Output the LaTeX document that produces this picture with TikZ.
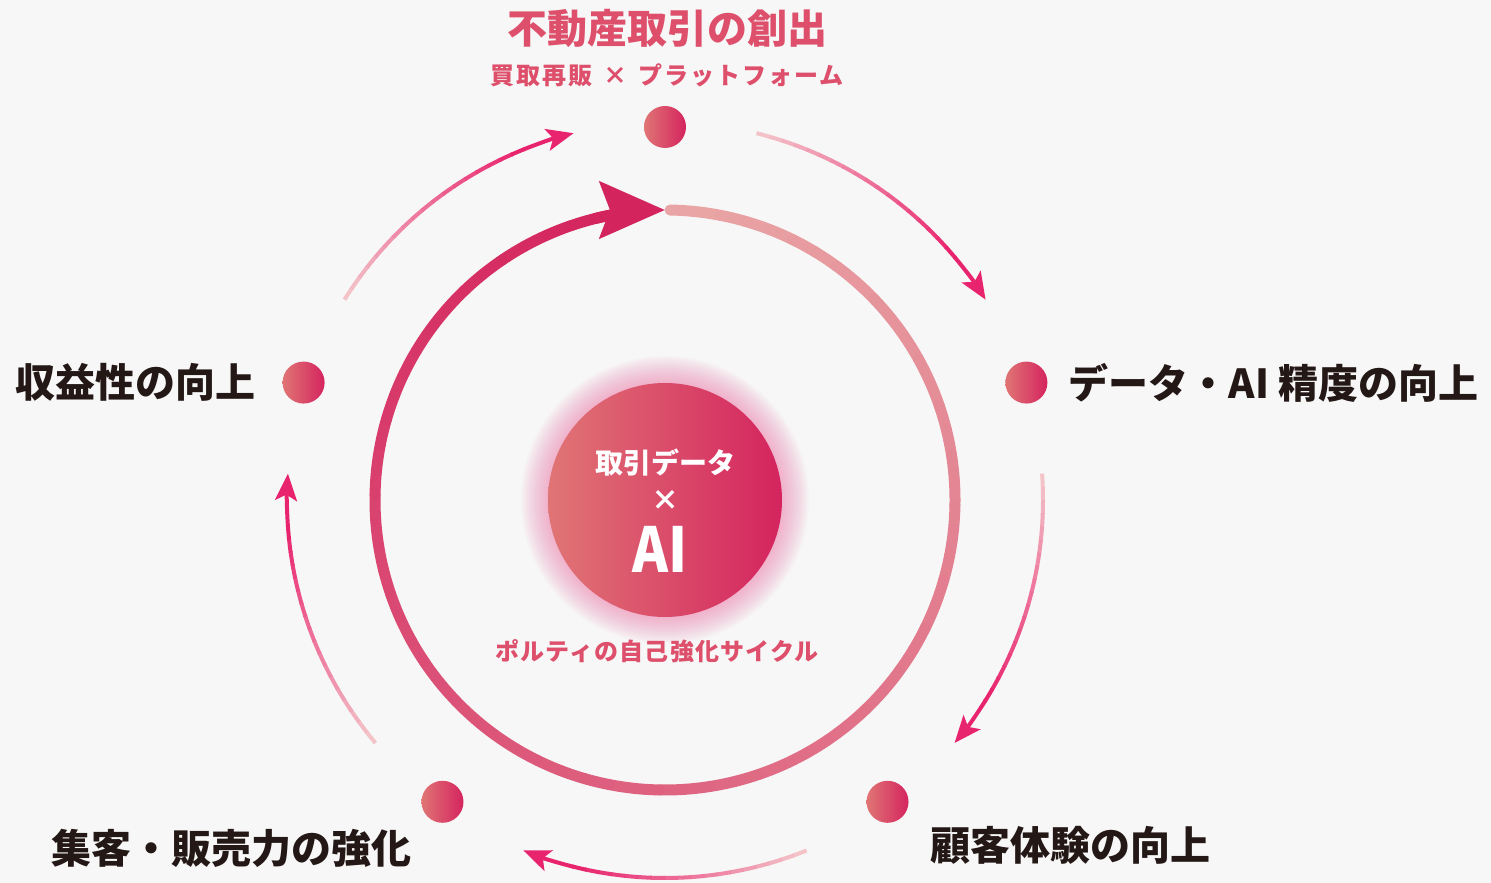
\documentclass[tikz,border=0pt]{standalone}
\usepackage{fontspec}
\setmainfont{Noto Sans CJK JP}
\newfontfamily\jpwide{Noto Sans CJK JP}[LetterSpace=5]
\newfontfamily\jpwider{Noto Sans CJK JP}[LetterSpace=8]
\usetikzlibrary{arrows.meta,positioning}
\definecolor{bgc}{HTML}{F7F7F7}
\definecolor{ink}{HTML}{231815}
\definecolor{rose}{HTML}{DD4F6B}
\definecolor{salmon}{HTML}{E07575}
\definecolor{crimson}{HTML}{D4245E}
\definecolor{ringstart}{HTML}{E9A5A5}
\definecolor{arctail}{HTML}{F3C3C8}
\definecolor{archead}{HTML}{E8246E}
\definecolor{glow}{HTML}{F0609E}
\tikzset{
    spot/.style={
        circle, inner sep=0pt,
        minimum size=42pt,
        left color=salmon, right color=crimson,
    },
    core/.style={
        circle, inner sep=0pt,
        minimum size=234pt,
        left color=salmon, right color=crimson,
    },
    phase/.style={
        font=\fontsize{40}{40}\selectfont\bfseries,
        text=ink, inner sep=0pt,
    },
    heading/.style={
        font=\fontsize{40}{40}\selectfont\bfseries,
        text=rose, inner sep=0pt,
    },
    subhead/.style={
        font=\jpwide\fontsize{24}{24}\selectfont\bfseries,
        text=rose, inner sep=0pt,
    },
    hubtext/.style={
        font=\fontsize{28}{28}\selectfont\bfseries,
        text=white, inner sep=0pt,
    },
    flow/.style={
        line width=4pt,
    },
}

\begin{document}
\begin{tikzpicture}[x=1pt,y=1pt]
                \fill[bgc] (0,0) rectangle (1491,883);
                \coordinate (c) at (665,383);
                % glow and hub
                \foreach \r in {118,120,...,144}
                    \fill[glow,opacity=0.04] (c) circle (\r pt);
                \node[core] (hub) at (c) {};
                \node[hubtext] (data) at ([yshift=37pt]hub.center) {取引データ};
                \node[hubtext] (times) at (hub.center) {×};
                \node[hubtext,font=\fontsize{62}{62}\selectfont\bfseries] (ai)
                    at ([xshift=-5pt,yshift=-49pt]hub.center) {\scalebox{0.88}[1]{AI}};
                \node[subhead] (cycle) at ([xshift=-8pt,yshift=-151pt]hub.center) {ポルティの自己強化サイクル};
                % inner ring
                \foreach \t in {0,...,69}{
                    \pgfmathsetmacro\s{89-5*\t}
                    \pgfmathtruncatemacro\p{100*\t/69}
                    \draw[crimson!\p!ringstart, line width=11pt, line cap=round]
                        ([shift={(\s:290pt)}]c) arc[start angle=\s, end angle=\s-5, radius=290pt];
                }
                \draw[crimson, line width=11pt, -{Stealth[length=65pt,width=56pt,inset=10pt]}]
                    ([shift={(-256:290pt)}]c) arc[start angle=-256, end angle=-270, radius=290pt];
                % outer arrows
                \foreach \a in {162,90,18,-54,-126}{
                    \foreach \t in {0,...,17}{
                        \pgfmathsetmacro\s{\a-14-2*\t}
                        \pgfmathtruncatemacro\p{100*\t/17}
                        \draw[flow, archead!\p!arctail]
                            ([shift={(\s:378pt)}]c) arc[start angle=\s, end angle=\s-2.2, radius=378pt];
                    }
                    \draw[flow, archead, -{Stealth[length=27pt,width=22pt,inset=6pt]}]
                        ([shift={(\a-50:378pt)}]c) arc[start angle=\a-50, end angle=\a-58, radius=378pt];
                }
                % steps
                \node[spot] (d1) at ([shift={(90:373pt)}]c) {};
                \node[spot] (d2) at ([shift={(18:380pt)}]c) {};
                \node[spot] (d3) at ([shift={(-53.6:375pt)}]c) {};
                \node[spot] (d4) at ([shift={(-126.4:375pt)}]c) {};
                \node[spot] (d5) at ([shift={(162:380pt)}]c) {};
                \node[heading] (create) at (667,855) {不動産取引の創出};
                \node[subhead, font=\jpwider\fontsize{24}{24}\selectfont\bfseries, below=16pt of create]
                    (platform) {買取再販\hspace{4pt} × \hspace{4pt}プラットフォーム};
                \node[phase, right=21pt of d2] (accuracy) {データ・AI 精度の向上};
                \node[phase, anchor=west] (experience) at ([xshift=22pt,yshift=-44pt]d3.east) {顧客体験の向上};
                \node[phase, anchor=east] (sales) at ([xshift=-10pt,yshift=-47pt]d4.west) {集客・販売力の強化};
                \node[phase, left=27pt of d5] (profit) {収益性の向上};
            \end{tikzpicture}
\end{document}
